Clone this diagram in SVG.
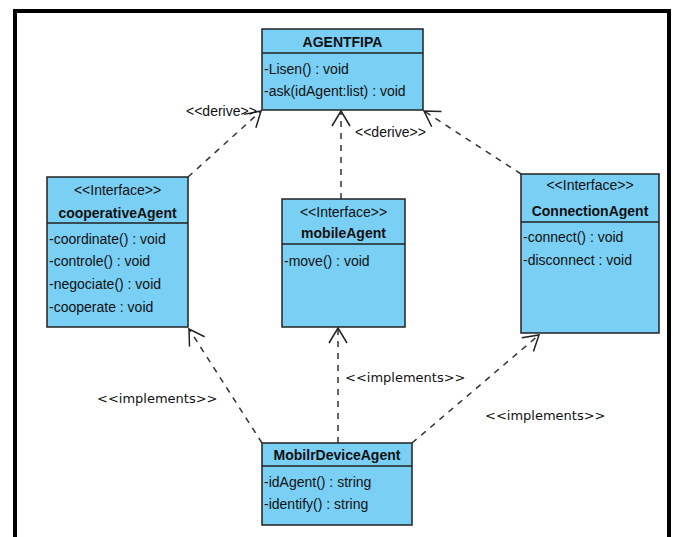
<svg xmlns="http://www.w3.org/2000/svg" width="673" height="537" viewBox="0 0 673 537">
<defs>
<style>
.box{fill:#79CFF4;stroke:#222;stroke-width:1.5}
.sep{stroke:#222;stroke-width:1.5}
.t{font-family:"Liberation Sans",Arial,sans-serif;font-size:14px;fill:#111}
.b{font-weight:bold;text-anchor:middle}
.c{text-anchor:middle}
.lbl{font-family:"DejaVu Sans",sans-serif;font-size:13px;fill:#111}
.dep{fill:none;stroke:#333;stroke-width:1.5;stroke-dasharray:6 6;marker-end:url(#open)}
</style>
<marker id="open" viewBox="-16 -10 18 20" markerWidth="18" markerHeight="20" refX="0" refY="0" orient="auto" markerUnits="userSpaceOnUse">
<path d="M-15,-9 L0,0 L-15,9" fill="none" stroke="#222" stroke-width="1.5" stroke-dasharray="none"/>
</marker>
</defs>
<rect width="673" height="537" fill="#fff"/>
<path d="M15,537 V11 H669 V537" fill="none" stroke="#000" stroke-width="4"/>

<g id="connectors">
<line class="dep" x1="188" y1="177" x2="261" y2="111"/>
<line class="dep" x1="341" y1="199" x2="341" y2="111"/>
<line class="dep" x1="521" y1="174" x2="424" y2="111"/>
<line class="dep" x1="262" y1="443" x2="189" y2="329"/>
<line class="dep" x1="338" y1="443" x2="338" y2="328"/>
<line class="dep" x1="412" y1="443" x2="539" y2="335"/>
<text class="t" x="186" y="116">&lt;&lt;derive&gt;&gt;</text>
<text class="t" x="355" y="137">&lt;&lt;derive&gt;&gt;</text>
<text class="lbl" x="345" y="382">&lt;&lt;implements&gt;&gt;</text>
<text class="lbl" x="97" y="403">&lt;&lt;implements&gt;&gt;</text>
<text class="lbl" x="485" y="420">&lt;&lt;implements&gt;&gt;</text>
</g>

<g id="AGENTFIPA">
<rect class="box" x="262" y="29" width="161" height="81"/>
<line class="sep" x1="262" y1="53" x2="423" y2="53"/>
<text class="t b" x="342.5" y="47">AGENTFIPA</text>
<text class="t" x="264" y="74">-Lisen() : void</text>
<text class="t" x="264" y="96">-ask(idAgent:list) : void</text>
</g>

<g id="cooperativeAgent">
<rect class="box" x="47" y="177" width="141" height="150"/>
<line class="sep" x1="47" y1="223" x2="188" y2="223"/>
<text class="t c" x="117.5" y="195">&lt;&lt;Interface&gt;&gt;</text>
<text class="t b" x="117.5" y="218">cooperativeAgent</text>
<text class="t" x="49" y="244">-coordinate() : void</text>
<text class="t" x="49" y="266">-controle() : void</text>
<text class="t" x="49" y="289">-negociate() : void</text>
<text class="t" x="49" y="312">-cooperate : void</text>
</g>

<g id="mobileAgent">
<rect class="box" x="282" y="199" width="123" height="128"/>
<line class="sep" x1="282" y1="244" x2="405" y2="244"/>
<text class="t c" x="343.5" y="217">&lt;&lt;Interface&gt;&gt;</text>
<text class="t b" x="343.5" y="238">mobileAgent</text>
<text class="t" x="284" y="266">-move() : void</text>
</g>

<g id="ConnectionAgent">
<rect class="box" x="521" y="174" width="138" height="159"/>
<line class="sep" x1="521" y1="222" x2="659" y2="222"/>
<text class="t c" x="590" y="190">&lt;&lt;Interface&gt;&gt;</text>
<text class="t b" x="590" y="216">ConnectionAgent</text>
<text class="t" x="523" y="242">-connect() : void</text>
<text class="t" x="523" y="265">-disconnect : void</text>
</g>

<g id="MobilrDeviceAgent">
<rect class="box" x="262" y="443" width="150" height="82"/>
<line class="sep" x1="262" y1="466" x2="412" y2="466"/>
<text class="t b" x="337" y="460">MobilrDeviceAgent</text>
<text class="t" x="264" y="487">-idAgent() : string</text>
<text class="t" x="264" y="509">-identify() : string</text>
</g>
</svg>
